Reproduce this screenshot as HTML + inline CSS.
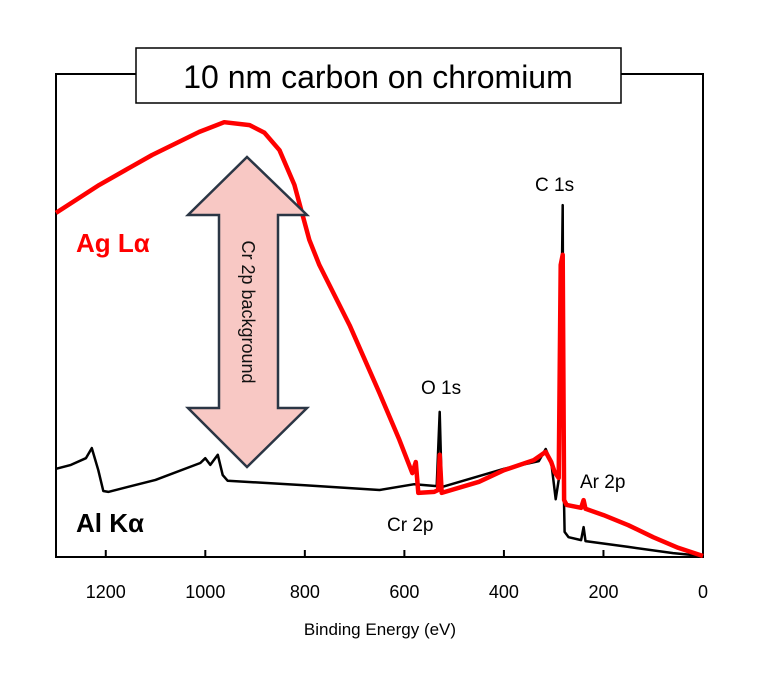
<!DOCTYPE html>
<html><head><meta charset="utf-8"><style>
body{margin:0;background:#fff}
svg{display:block}
text{font-family:"Liberation Sans",sans-serif}
</style></head><body>
<svg id="chart" width="768" height="679" viewBox="0 0 768 679">
  <rect x="0" y="0" width="768" height="679" fill="#fff"/>
  <rect x="56" y="74" width="647" height="483" fill="none" stroke="#000" stroke-width="2"/>
  <g id="ticks"></g>
  <g id="series"></g>
  <g>
    <polygon points="247,157 307,215 278,215 278,408 307,408 247,467 188,408 219,408 219,215 188,215" fill="#f8c8c4" stroke="#2b3645" stroke-width="2.5" stroke-linejoin="miter"/>
    <text x="0" y="0" transform="translate(242,312) rotate(90)" text-anchor="middle" font-size="18" fill="#111">Cr 2p background</text>
  </g>
  <rect x="136" y="48" width="485" height="55" fill="#fff" stroke="#000" stroke-width="1.5"/>
  <text x="378" y="88" text-anchor="middle" font-size="32" fill="#000">10 nm carbon on chromium</text>
  <text x="76" y="252" font-size="26" font-weight="bold" fill="#f00">Ag Lα</text>
  <text x="76" y="532" font-size="26" font-weight="bold" fill="#000">Al Kα</text>
  <text x="535" y="191" font-size="19">C 1s</text>
  <text x="421" y="394" font-size="19">O 1s</text>
  <text x="580" y="488" font-size="19">Ar 2p</text>
  <text x="387" y="531" font-size="19">Cr 2p</text>
  <text x="380" y="635" text-anchor="middle" font-size="17">Binding Energy (eV)</text>
</svg>
<script>
const tickValues = [1200, 1000, 800, 600, 400, 200, 0];
const tickLabels = ["1200", "1000", "800", "600", "400", "200", "0"];
const blackEnergy = [1300,1270,1240,1228,1215,1205,1195,1100,1010,1000,990,975,965,955,800,650,580,535,529,525,400,330,316,305,296,290,285,282,280,278,270,245,240,236,150,60,0];
const blackCounts = [18.3,19.1,20.5,22.6,18.0,13.7,13.5,16.0,19.5,20.5,19.1,21.2,17.0,15.8,14.9,13.9,15.1,14.7,30.1,14.5,18.3,19.9,22.4,19.7,12.0,16.0,47,73.0,16,5.2,4.1,3.5,6.2,3.3,2.1,0.8,0.2];
const redEnergy = [1300,1213,1107,1012,962,911,881,851,821,791,771,710,650,610,584,577,572,540,532,529,525,450,400,340,316,305,298,290,286,282,279,274,245,240,236,200,150,100,50,0];
const redCounts = [71.4,77.2,83.4,88.2,90.2,89.6,88.0,84.4,77.2,65.8,60.6,48.1,34.0,24.3,17.4,19.7,13.3,13.5,13.9,21.2,13.3,15.6,18.0,20.1,21.8,19.7,17.6,16.4,60.6,62.7,11.8,10.8,10.2,11.8,10.0,8.7,6.6,4.1,1.9,0.2];

const X0 = 56, X1 = 703, Y0 = 557, Y1 = 75;
function xScale(e){ return X0 + (1300 - e) / 1300 * (X1 - X0); }
function yScale(v){ return Y0 - v / 100 * (Y0 - Y1); }
const NS = "http://www.w3.org/2000/svg";
const tg = document.getElementById("ticks");
tickValues.forEach((t, i) => {
  const x = xScale(t);
  const l = document.createElementNS(NS, "line");
  l.setAttribute("x1", x); l.setAttribute("x2", x);
  l.setAttribute("y1", Y0); l.setAttribute("y2", Y0 - 7);
  l.setAttribute("stroke", "#000"); l.setAttribute("stroke-width", "2");
  
  
  tg.appendChild(l);
  const tx = document.createElementNS(NS, "text");
  tx.setAttribute("x", x); tx.setAttribute("y", 598);
  tx.setAttribute("text-anchor", "middle"); tx.setAttribute("font-size", "18");
  tx.textContent = tickLabels[i];
  
  
  tg.appendChild(tx);
});
function path(es, vs){
  return es.map((e, i) => (i ? "L" : "M") + xScale(e).toFixed(1) + "," + yScale(vs[i]).toFixed(1)).join(" ");
}
const sg = document.getElementById("series");
const pb = document.createElementNS(NS, "path");
pb.setAttribute("d", path(blackEnergy, blackCounts));
pb.setAttribute("fill", "none"); pb.setAttribute("stroke", "#000");
pb.setAttribute("stroke-width", "2.5"); pb.setAttribute("stroke-linejoin", "round");


sg.appendChild(pb);
const pr = document.createElementNS(NS, "path");
pr.setAttribute("d", path(redEnergy, redCounts));
pr.setAttribute("fill", "none"); pr.setAttribute("stroke", "#f00");
pr.setAttribute("stroke-width", "4.5"); pr.setAttribute("stroke-linejoin", "round");


sg.appendChild(pr);
</script>
</body></html>
